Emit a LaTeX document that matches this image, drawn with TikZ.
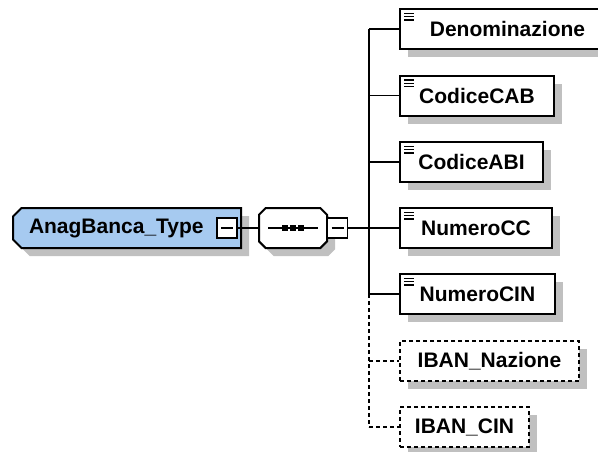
\documentclass[tikz,border=0pt]{standalone}
\usepackage{fontspec}
\setmainfont{Liberation Sans}
\usetikzlibrary{shapes.misc,shadows}
\definecolor{typeblue}{RGB}{166,202,240}
\definecolor{shadowgray}{RGB}{192,192,192}
\begin{document}
\begin{tikzpicture}[x=1pt,y=-1pt,font=\fontsize{21}{25}\selectfont\bfseries,
  boxshadow/.style={drop shadow={shadow xshift=8pt,shadow yshift=-8pt,fill=shadowgray,opacity=1}},
  elem/.style={draw,line width=2pt,fill=white,minimum height=40pt,anchor=west,inner xsep=4pt,boxshadow},
  docicon/.style={path picture={\foreach \k in {0,1,2}
     \draw[line width=1.4pt] ([shift={(4pt,{-4.5pt-3.2pt*\k})}]path picture bounding box.north west) -- ++(10pt,0pt);}},
  optional/.style={dash pattern=on 4pt off 3pt},
  minusbox/.style={draw,line width=1.6pt,fill=white,minimum size=20pt,inner sep=0pt,
     path picture={\draw[line width=1.3pt] ([xshift=4pt]path picture bounding box.west) -- ([xshift=-4pt]path picture bounding box.east);}},
  conn/.style={line width=1.7pt}]
\clip (0,0) rectangle (598,451);
% complex type and sequence
\node[draw,line width=2pt,fill=typeblue,chamfered rectangle,chamfered rectangle corners={north west,south west},
  chamfered rectangle xsep=5pt,minimum width=218pt,minimum height=40pt,anchor=west,
  inner xsep=11pt,text width=196pt,align=left,boxshadow] (root) at (12,228) {AnagBanca\_Type};
\node[minusbox] (rootminus) at (227,228) {};
\node[draw,line width=2pt,fill=white,chamfered rectangle,chamfered rectangle xsep=7pt,
  minimum width=68pt,minimum height=40pt,boxshadow] (seq) at (293,228) {};
\draw[conn] ([xshift=-25pt]seq.center) -- ([xshift=25pt]seq.center);
\foreach \dx in {-8,0,8}
  \fill ([xshift=\dx pt]seq.center) +(-3pt,-3pt) rectangle +(3pt,3pt);
\node[minusbox] (seqminus) at (337.5,228) {};
% child elements
\node[elem,docicon,minimum width=215pt] (den) at (399,29) {Denominazione};
\node[elem,docicon,minimum width=154pt] (cab) at (399,95.5) {CodiceCAB};
\node[elem,docicon,minimum width=143pt] (abi) at (399,162) {CodiceABI};
\node[elem,docicon,minimum width=152pt] (cc) at (399,228) {NumeroCC};
\node[elem,docicon,minimum width=155pt] (cin) at (399,294) {NumeroCIN};
\node[elem,optional,minimum width=179pt] (naz) at (399,361) {IBAN\_Nazione};
\node[elem,optional,minimum width=129pt] (ibancin) at (399,427) {IBAN\_CIN};
% connectors
\coordinate (bus) at (369,228);
\draw[conn] (rootminus) -- (seq);
\draw[conn] (seqminus) -- (bus);
\draw[conn] (den.west -| bus) -- (cin.west -| bus);
\draw[conn,optional] (cin.west -| bus) -- (ibancin.west -| bus);
\foreach \n in {den,cab,abi,cc,cin}
  \draw[conn] (\n.west -| bus) -- (\n.west);
\foreach \n in {naz,ibancin}
  \draw[conn,optional] (\n.west -| bus) -- (\n.west);
\end{tikzpicture}
\end{document}
